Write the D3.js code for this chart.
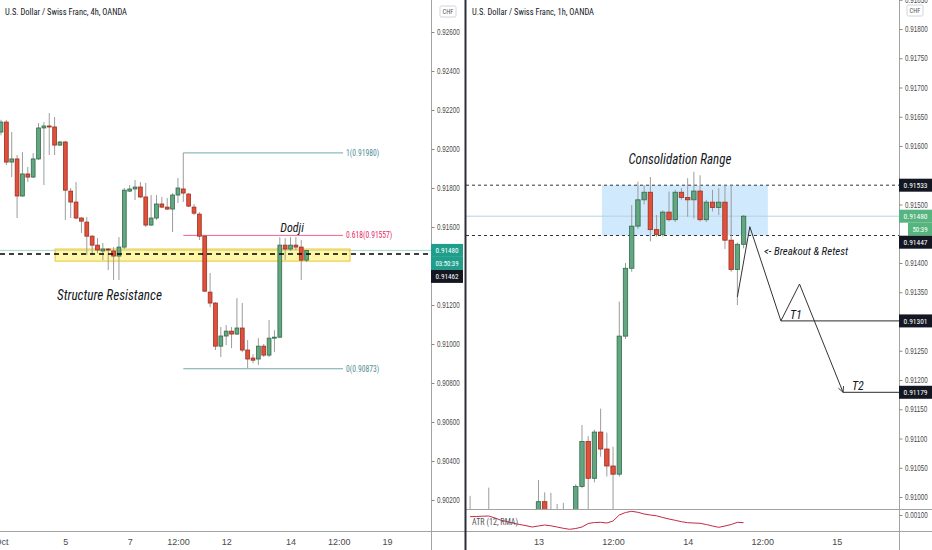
<!DOCTYPE html>
<html>
<head>
<meta charset="utf-8">
<script src="https://d3js.org/d3.v7.min.js"></script>
<style>
  body { margin: 0; background: #fff; }
  svg { display: block; font-family: "Liberation Sans Narrow", "Roboto Condensed", Roboto, sans-serif; }
  .wick { stroke: #9c9c9c; stroke-width: 1; }
  .up { fill: #63a680; stroke: #2f6b4b; stroke-width: 0.8; }
  .down { fill: #e0513c; stroke: #9c2e20; stroke-width: 0.8; }
  .axis text { fill: #4a4a4a; font-size: 8.5px; }
  .axis line { stroke: #888; }
  .note { font-style: italic; fill: #131722; }
  .frame { stroke: #a3a3a3; stroke-width: 1; }
</style>
</head>
<body>
<script>
// ---------- left chart: USD/CHF 4h, [open, high, low, close]
var leftCandles = [
  [0.92087,0.92150,0.92070,0.92138],[0.92138,0.92148,0.91918,0.91933],[0.91933,0.92087,0.91856,0.91949],
  [0.91949,0.91969,0.91646,0.91759],[0.91759,0.91984,0.91754,0.91872],[0.91872,0.91908,0.91831,0.91856],
  [0.91856,0.91979,0.91851,0.91949],[0.91949,0.92133,0.91943,0.92108],[0.92108,0.92138,0.91815,0.92118],
  [0.92118,0.92184,0.91969,0.92113],[0.92113,0.92164,0.91969,0.92020],[0.92020,0.92041,0.92015,0.92036],
  [0.92036,0.92041,0.91636,0.91789],[0.91784,0.91800,0.91646,0.91728],[0.91728,0.91831,0.91640,0.91646],
  [0.91646,0.91651,0.91569,0.91630],[0.91625,0.91651,0.91456,0.91553],[0.91553,0.91558,0.91456,0.91507],
  [0.91507,0.91543,0.91466,0.91482],[0.91477,0.91518,0.91430,0.91487],[0.91487,0.91492,0.91379,0.91482],
  [0.91477,0.91497,0.91328,0.91451],[0.91451,0.91548,0.91328,0.91497],[0.91497,0.91800,0.91487,0.91789],
  [0.91784,0.91815,0.91779,0.91795],[0.91795,0.91841,0.91738,0.91805],[0.91805,0.91831,0.91749,0.91754],
  [0.91754,0.91826,0.91600,0.91610],[0.91610,0.91764,0.91605,0.91646],[0.91646,0.91764,0.91636,0.91718],
  [0.91718,0.91754,0.91697,0.91702],[0.91702,0.91749,0.91687,0.91692],[0.91692,0.91774,0.91574,0.91764],
  [0.91764,0.91851,0.91723,0.91800],[0.91795,0.91980,0.91728,0.91774],[0.91769,0.91774,0.91702,0.91707],
  [0.91702,0.91718,0.91661,0.91671],[0.91666,0.91676,0.91533,0.91553],[0.91553,0.91558,0.91266,0.91271],
  [0.91266,0.91364,0.91189,0.91210],[0.91210,0.91215,0.90969,0.90989],[0.90989,0.91087,0.90933,0.91041],
  [0.91041,0.91097,0.90994,0.91066],[0.91066,0.91087,0.90979,0.91051],[0.91051,0.91235,0.91046,0.91082],
  [0.91082,0.91210,0.90958,0.90969],[0.90969,0.91020,0.90876,0.90923],[0.90928,0.90948,0.90902,0.90917],
  [0.90923,0.91030,0.90892,0.90989],[0.90989,0.91000,0.90933,0.90943],[0.90943,0.91123,0.90933,0.91030],
  [0.91030,0.91071,0.90958,0.91035],[0.91035,0.91548,0.91030,0.91507],[0.91507,0.91543,0.91430,0.91487],
  [0.91487,0.91548,0.91477,0.91507],[0.91507,0.91548,0.91482,0.91497],[0.91497,0.91533,0.91328,0.91430],
  [0.91430,0.91482,0.91420,0.91480]
];
var leftTicks = [0.926, 0.924, 0.922, 0.920, 0.918, 0.916, 0.914, 0.912, 0.910, 0.908, 0.906, 0.904, 0.902];
var leftTimeIdx = [0, 12, 24, 33, 42, 54, 63, 72];
var leftTimeLabels = ["Oct", "5", "7", "12:00", "12", "14", "12:00", "19"];
var fibRatios = ["1", "0.618", "0"];
var fibPrices = [0.91980, 0.91557, 0.90873];
var fibIdx = [34, 63.8];
var zonePrices = [0.91487, 0.91425];
var zoneIdx = [10.1, 65.1];
var leftLast = 0.91480, leftLevel = 0.91462, leftCountdown = "03:50:39";

// ---------- right chart: USD/CHF 1h, index 0 = 13th 00:00
var rightStart = -11;
var rightCandles = [
  [0.90950,0.91002,0.90920,0.90960],[0.90960,0.90975,0.90930,0.90945],[0.90945,0.90970,0.90925,0.90950],
  [0.90950,0.91016,0.90940,0.90965],[0.90965,0.90975,0.90920,0.90930],[0.90930,0.90950,0.90900,0.90915],
  [0.90915,0.90945,0.90905,0.90935],[0.90935,0.90960,0.90920,0.90925],[0.90925,0.90955,0.90910,0.90945],
  [0.90945,0.90965,0.90930,0.90950],[0.90950,0.90970,0.90935,0.90960],
  [0.90960,0.91029,0.90940,0.90992],[0.90992,0.91008,0.90930,0.90960],[0.90960,0.91007,0.90935,0.90955],
  [0.90955,0.90988,0.90930,0.90950],[0.90950,0.90990,0.90935,0.90965],[0.90965,0.90975,0.90945,0.90970],
  [0.90970,0.91022,0.90960,0.91018],[0.91018,0.91123,0.91015,0.91095],[0.91095,0.91104,0.90970,0.91032],
  [0.91032,0.91115,0.91025,0.91111],[0.91111,0.91151,0.91069,0.91082],[0.91082,0.91110,0.91035,0.91053],
  [0.91053,0.91086,0.90970,0.91039],[0.91039,0.91334,0.91035,0.91275],[0.91275,0.91400,0.91270,0.91391],
  [0.91391,0.91499,0.91385,0.91463],[0.91463,0.91539,0.91458,0.91508],[0.91508,0.91533,0.91500,0.91521],
  [0.91521,0.91547,0.91437,0.91457],[0.91457,0.91482,0.91445,0.91449],[0.91449,0.91490,0.91445,0.91487],
  [0.91487,0.91522,0.91471,0.91474],[0.91474,0.91525,0.91470,0.91521],[0.91521,0.91528,0.91508,0.91512],
  [0.91512,0.91545,0.91479,0.91508],[0.91508,0.91556,0.91476,0.91523],[0.91523,0.91550,0.91471,0.91474],
  [0.91474,0.91508,0.91470,0.91504],[0.91504,0.91525,0.91488,0.91495],[0.91495,0.91528,0.91482,0.91504],
  [0.91504,0.91533,0.91424,0.91439],[0.91439,0.91533,0.91385,0.91389],[0.91389,0.91435,0.91328,0.91432],
  [0.91432,0.91482,0.91425,0.91480]
];
var atrValues = [
  0.000966,0.00097,0.000976,0.00098,0.00094,0.000894,0.000866,0.000834,0.00081,0.000786,0.00076,
  0.00078,0.0008,0.000784,0.00076,0.000734,0.000714,0.00073,0.00076,0.00083,0.00085,0.000854,0.00084,
  0.00088,0.001,0.00105,0.001074,0.001054,0.00102,0.001,0.000984,0.00095,0.00092,0.000894,0.000866,
  0.000846,0.00084,0.000834,0.00081,0.00078,0.000754,0.00078,0.00081,0.000854,0.000846
];
var rightTicks = [0.9185, 0.918, 0.9175, 0.917, 0.9165, 0.916, 0.9155, 0.915, 0.9145, 0.914, 0.9135,
                  0.913, 0.9125, 0.912, 0.9115, 0.911, 0.9105, 0.910];
var atrTicks = [0.001];
var rightTimeIdx = [0, 12, 24, 36, 48];
var rightTimeLabels = ["13", "12:00", "14", "12:00", "15"];
var rangePrices = [0.91533, 0.91447];
var rangeIdx = [10.2, 36.9];
var pathIdx = [32, 34, 39, 42, 49];
var pathPrices = [0.91342, 0.91462, 0.91301, 0.91364, 0.91179];
var targetNames = ["T1", "T2"];
var targetPrices = [0.91301, 0.91179];
var targetIdx = [39, 49];
var rightLast = 0.91480, rightCountdown = "50:39";

// ---------- layout
var W = 932, H = 550;
var svg = d3.select("body").append("svg").attr("width", W).attr("height", H);
var defs = svg.append("defs");
defs.append("clipPath").attr("id", "clipL").append("rect").attr("x", 0).attr("y", 0).attr("width", 431).attr("height", 531);
defs.append("clipPath").attr("id", "clipR").append("rect").attr("x", 466).attr("y", 0).attr("width", 433).attr("height", 509);
defs.append("clipPath").attr("id", "clipA").append("rect").attr("x", 466).attr("y", 509).attr("width", 433).attr("height", 22);
defs.append("marker").attr("id", "arrow").attr("viewBox", "0 0 10 10").attr("refX", 9).attr("refY", 5)
  .attr("markerWidth", 7).attr("markerHeight", 7).attr("orient", "auto")
  .append("path").attr("d", "M1,1L9,5L1,9").attr("fill", "none").attr("stroke", "#333").attr("stroke-width", 1.2);

var lx = d3.scaleLinear().domain([0, 80.2]).range([1, 431]);
var ly = d3.scaleLinear().domain([0.926, 0.902]).range([32, 500]);
var rx = d3.scaleLinear().domain([-11.66, 58]).range([466, 899]);
var ry = d3.scaleLinear().domain([0.918, 0.910]).range([29, 497]);
var ay = d3.scaleLinear().domain([0.001, 0.0008]).range([515, 525]);

var fmt5 = d3.format(".5f");

function drawCandles(g, data, x, y, start, w) {
  var c = g.selectAll("g.c").data(data).join("g").attr("class", "c");
  c.append("line").attr("class", "wick")
    .attr("x1", function(d, i) { return x(i + start); })
    .attr("x2", function(d, i) { return x(i + start); })
    .attr("y1", function(d) { return y(d[1]); })
    .attr("y2", function(d) { return y(d[2]); });
  c.append("rect").attr("class", function(d) { return d[3] >= d[0] ? "up" : "down"; })
    .attr("x", function(d, i) { return x(i + start) - w / 2; })
    .attr("width", w)
    .attr("y", function(d) { return y(Math.max(d[0], d[3])); })
    .attr("height", function(d) { return Math.max(1, Math.abs(y(d[0]) - y(d[3]))); });
}

// stack axis boxes so they do not overlap (same as the platform does)
function stackBoxes(list) {
  var prev = -Infinity;
  list.forEach(function(d) { d.yy = Math.max(d.y, prev + 13); prev = d.yy; });
  return list;
}

function priceAxis(x, scale, ticks, boxes) {
  var shown = ticks.filter(function(t) {
    return !boxes.some(function(b) { return Math.abs(scale(t) - b.yy) < 10; });
  });
  var ax = svg.append("g").attr("class", "axis").attr("transform", "translate(" + x + ",0)")
    .call(d3.axisRight(scale).tickValues(shown).tickFormat(fmt5).tickSize(3).tickPadding(2));
  ax.select(".domain").remove();
  // narrow digits like the platform font
  ax.selectAll("text").attr("x", 0).attr("transform", "translate(5.5,0) scale(0.74,1)");
}

function timeAxis(scale, idx, labels) {
  var ax = svg.append("g").attr("class", "axis").attr("transform", "translate(0,531)")
    .call(d3.axisBottom(scale).tickValues(idx).tickFormat(function(d, i) { return labels[i]; }).tickSize(0).tickPadding(8));
  ax.select(".domain").remove();
  ax.selectAll("text").style("font-size", "9px");
}

function drawBoxes(list, x0) {
  list.forEach(function(d) {
    var bx = x0 + (d.dx || 0);
    svg.append("rect").attr("x", bx).attr("y", d.yy - 6.5).attr("width", d.w).attr("height", 13).attr("fill", d.fill);
    svg.append("text").attr("x", bx + d.w / 2).attr("y", d.yy + 3).attr("text-anchor", "middle")
      .attr("fill", "#fff").style("font-size", "8px")
      .attr("textLength", d.w - 9).attr("lengthAdjust", "spacingAndGlyphs").text(d.text);
  });
}

function chfBox(x, y) {
  svg.append("rect").attr("x", x).attr("y", y).attr("width", 16).attr("height", 11).attr("rx", 1.5)
    .attr("fill", "#fff").attr("stroke", "#d1d4dc");
  svg.append("text").attr("x", x + 8).attr("y", y + 8).attr("text-anchor", "middle")
    .attr("fill", "#555").style("font-size", "6.5px").text("CHF");
}

// ================= LEFT PANEL =================
var gl = svg.append("g").attr("clip-path", "url(#clipL)");

gl.append("line").attr("x1", 0).attr("x2", 431).attr("y1", ly(leftLast)).attr("y2", ly(leftLast))
  .attr("stroke", "#a9d9d2").attr("stroke-width", 1);

gl.append("rect").attr("x", lx(zoneIdx[0])).attr("width", lx(zoneIdx[1]) - lx(zoneIdx[0]))
  .attr("y", ly(zonePrices[0])).attr("height", ly(zonePrices[1]) - ly(zonePrices[0]))
  .attr("fill", "rgba(255,235,59,0.45)").attr("stroke", "#e8c53a").attr("stroke-width", 1);

var fibColors = ["#72aaa8", "#f06292", "#72aaa8"];
var fibText = ["#4f8d95", "#e91e63", "#4f8d95"];
fibPrices.forEach(function(p, i) {
  gl.append("line").attr("x1", lx(fibIdx[0])).attr("x2", lx(fibIdx[1])).attr("y1", ly(p)).attr("y2", ly(p))
    .attr("stroke", fibColors[i]).attr("stroke-width", 1);
  var label = fibRatios[i] + "(" + fmt5(p) + ")";
  gl.append("text").attr("x", lx(fibIdx[1]) + 3).attr("y", ly(p) + 3).attr("fill", fibText[i])
    .style("font-size", "8.5px").attr("textLength", label.length * 3.3).attr("lengthAdjust", "spacingAndGlyphs")
    .text(label);
});

drawCandles(gl, leftCandles, lx, ly, 0, 3.8);

gl.append("line").attr("x1", 0).attr("x2", 431).attr("y1", ly(leftLevel)).attr("y2", ly(leftLevel))
  .attr("stroke", "#000").attr("stroke-width", 1.5).attr("stroke-dasharray", "5,4");

gl.append("text").attr("class", "note").attr("x", lx(54.3)).attr("y", ly(0.91595) + 4)
  .attr("text-anchor", "middle").style("font-size", "12px").text("Dodji");
gl.append("text").attr("class", "note").attr("x", lx(10.45)).attr("y", ly(0.91251) + 5)
  .attr("textLength", 105).attr("lengthAdjust", "spacingAndGlyphs").style("font-size", "14px").text("Structure Resistance");

svg.append("text").attr("x", 5).attr("y", 15).attr("fill", "#131722").style("font-size", "8.5px")
  .attr("textLength", 122).attr("lengthAdjust", "spacingAndGlyphs").text("U.S. Dollar / Swiss Franc, 4h, OANDA");

// ================= RIGHT PANEL =================
var gr = svg.append("g").attr("clip-path", "url(#clipR)");

gr.append("rect").attr("x", rx(rangeIdx[0])).attr("width", rx(rangeIdx[1]) - rx(rangeIdx[0]))
  .attr("y", ry(rangePrices[0])).attr("height", ry(rangePrices[1]) - ry(rangePrices[0]))
  .attr("fill", "rgba(144,202,249,0.42)");
gr.append("line").attr("x1", 466).attr("x2", 899).attr("y1", ry(rightLast)).attr("y2", ry(rightLast))
  .attr("stroke", "#b7d3dc").attr("stroke-width", 1);
rangePrices.forEach(function(p) {
  gr.append("line").attr("x1", 466).attr("x2", 899).attr("y1", ry(p)).attr("y2", ry(p))
    .attr("stroke", "#333").attr("stroke-width", 1).attr("stroke-dasharray", "3,3");
});

drawCandles(gr, rightCandles, rx, ry, rightStart, 4.4);

targetPrices.forEach(function(p, i) {
  gr.append("line").attr("x1", rx(targetIdx[i])).attr("x2", 899).attr("y1", ry(p)).attr("y2", ry(p))
    .attr("stroke", "#555").attr("stroke-width", 1.3);
  gr.append("text").attr("class", "note").attr("x", rx(targetIdx[i]) + 9).attr("y", ry(p) - 2)
    .style("font-size", "12px").text(targetNames[i]);
});

gr.append("path")
  .datum(pathIdx.map(function(d, i) { return [d, pathPrices[i]]; }))
  .attr("d", d3.line().x(function(d) { return rx(d[0]); }).y(function(d) { return ry(d[1]); }))
  .attr("fill", "none").attr("stroke", "#333").attr("stroke-width", 1).attr("marker-end", "url(#arrow)");

gr.append("text").attr("class", "note").attr("x", rx(10.2) + 78).attr("y", ry(0.91578) + 5)
  .attr("text-anchor", "middle").attr("textLength", 103).attr("lengthAdjust", "spacingAndGlyphs")
  .style("font-size", "14px").text("Consolidation Range");
gr.append("text").attr("class", "note").attr("x", rx(36.3)).attr("y", ry(0.91421) + 4)
  .attr("textLength", 84).attr("lengthAdjust", "spacingAndGlyphs")
  .style("font-size", "11.5px").text("<- Breakout & Retest");

svg.append("text").attr("x", 472).attr("y", 15).attr("fill", "#131722").style("font-size", "8.5px")
  .attr("textLength", 122).attr("lengthAdjust", "spacingAndGlyphs").text("U.S. Dollar / Swiss Franc, 1h, OANDA");

// ATR pane
var ga = svg.append("g").attr("clip-path", "url(#clipA)");
ga.append("path").datum(atrValues)
  .attr("d", d3.line().x(function(d, i) { return rx(i + rightStart); }).y(function(d) { return ay(d); }))
  .attr("fill", "none").attr("stroke", "#c62845").attr("stroke-width", 1);
svg.append("text").attr("x", 472).attr("y", 525).attr("fill", "#555").style("font-size", "8.5px")
  .attr("textLength", 46).attr("lengthAdjust", "spacingAndGlyphs").text("ATR (12, RMA)");

// ================= FRAMES AND AXES =================
svg.append("line").attr("class", "frame").attr("x1", 0).attr("x2", W).attr("y1", 531.5).attr("y2", 531.5);
svg.append("line").attr("class", "frame").attr("x1", 466).attr("x2", W).attr("y1", 509.5).attr("y2", 509.5);
svg.append("line").attr("class", "frame").attr("x1", 431.5).attr("x2", 431.5).attr("y1", 0).attr("y2", H);
svg.append("line").attr("class", "frame").attr("x1", 899.5).attr("x2", 899.5).attr("y1", 0).attr("y2", H);
svg.append("rect").attr("x", 464.5).attr("y", 0).attr("width", 2).attr("height", H).attr("fill", "#2a2e39");

var leftBoxes = stackBoxes([
  { y: ly(leftLast), text: fmt5(leftLast), fill: "#1f9e8c", w: 32 },
  { y: ly(leftLast) + 13, text: leftCountdown, fill: "#1f9e8c", w: 32 },
  { y: ly(leftLevel), text: fmt5(leftLevel), fill: "#131722", w: 32 }
]);
var rightBoxes = stackBoxes([
  { y: ry(rangePrices[0]), text: fmt5(rangePrices[0]), fill: "#131722", w: 33 },
  { y: ry(rightLast), text: fmt5(rightLast), fill: "#56b47f", w: 33 },
  { y: ry(rightLast) + 13, text: rightCountdown, fill: "#56b47f", w: 24, dx: 9 },
  { y: ry(rangePrices[1]), text: fmt5(rangePrices[1]), fill: "#131722", w: 33 },
  { y: ry(targetPrices[0]), text: fmt5(targetPrices[0]), fill: "#131722", w: 33 },
  { y: ry(targetPrices[1]), text: fmt5(targetPrices[1]), fill: "#131722", w: 33 }
]);

priceAxis(431.5, ly, leftTicks, leftBoxes);
priceAxis(899.5, ry, rightTicks, rightBoxes);
priceAxis(899.5, ay, atrTicks, []);
timeAxis(lx, leftTimeIdx, leftTimeLabels);
timeAxis(rx, rightTimeIdx, rightTimeLabels);

chfBox(440, 6);
chfBox(907, 5);

drawBoxes(leftBoxes, 431);
drawBoxes(rightBoxes, 899);
</script>
</body>
</html>
